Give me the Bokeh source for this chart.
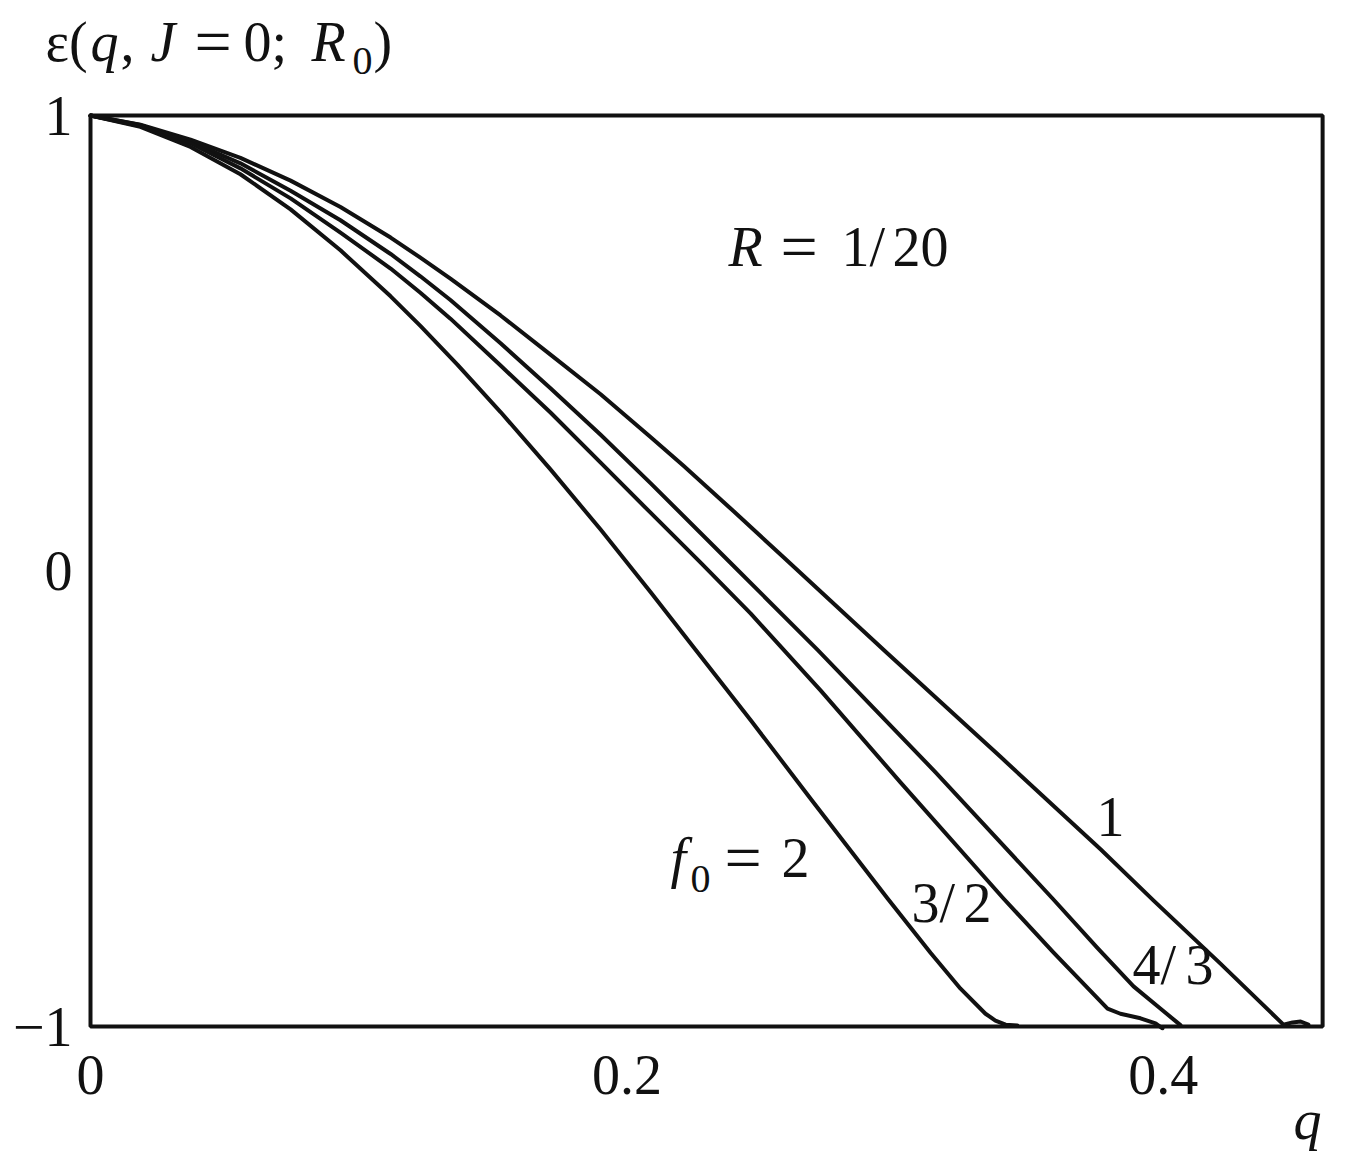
from bokeh.plotting import figure
from bokeh.models import Range1d, FixedTicker, Label, BoxAnnotation, LinearAxis
from bokeh.embed import file_html
from bokeh.resources import INLINE

# ---- data (q, epsilon) ----
q_f1 = [0, 0.0186, 0.0373, 0.0559, 0.0746, 0.0932, 0.1119, 0.1230, 0.1342, 0.1529,
        0.1715, 0.1902, 0.2088, 0.2211, 0.2398, 0.2584, 0.2972, 0.3393, 0.3766, 0.3963,
        0.4213, 0.4448, 0.4482, 0.4512, 0.4541]
eps_f1 = [1.0, 0.980, 0.947, 0.907, 0.857, 0.799, 0.732, 0.688, 0.642, 0.561,
          0.475, 0.388, 0.294, 0.231, 0.131, 0.030, -0.181, -0.408, -0.611, -0.723,
          -0.862, -0.996, -0.991, -0.989, -0.996]

q_f43 = [0, 0.0186, 0.0373, 0.0559, 0.0746, 0.0932, 0.1119, 0.1230, 0.1342, 0.1529,
         0.1715, 0.1902, 0.2088, 0.2398, 0.2711, 0.3151, 0.3587, 0.3755, 0.3889, 0.3990,
         0.4064]
eps_f43 = [1.0, 0.979, 0.943, 0.895, 0.835, 0.770, 0.696, 0.647, 0.595, 0.500,
           0.401, 0.299, 0.193, 0.011, -0.173, -0.442, -0.719, -0.828, -0.912, -0.961,
           -0.997]

q_f32 = [0, 0.0186, 0.0373, 0.0559, 0.0746, 0.0932, 0.1119, 0.1230, 0.1342, 0.1529,
         0.1715, 0.1902, 0.2088, 0.2274, 0.2461, 0.2722, 0.3020, 0.3404, 0.3591, 0.3792,
         0.3840, 0.3915, 0.3971, 0.3997]
eps_f32 = [1.0, 0.977, 0.939, 0.884, 0.818, 0.743, 0.664, 0.611, 0.554, 0.451,
           0.348, 0.238, 0.128, 0.019, -0.093, -0.262, -0.464, -0.719, -0.838, -0.961,
           -0.972, -0.982, -0.993, -1.004]

q_f2 = [0, 0.0186, 0.0373, 0.0559, 0.0746, 0.0932, 0.1119, 0.1230, 0.1368, 0.1529,
        0.1715, 0.1902, 0.2088, 0.2248, 0.2461, 0.2685, 0.2972, 0.3132, 0.3244, 0.3337,
        0.3374, 0.3412, 0.3456]
eps_f2 = [1.0, 0.975, 0.931, 0.871, 0.794, 0.704, 0.603, 0.538, 0.453, 0.349,
          0.223, 0.091, -0.046, -0.167, -0.327, -0.500, -0.719, -0.838, -0.917, -0.972,
          -0.987, -0.996, -0.998]

x_ticks = [0, 0.2, 0.4]
x_tick_labels = ["0", "0.2", "0.4"]
y_ticks = [-1, 0, 1]
y_tick_labels = ["\u22121", "0", "1"]
q_max = 0.4594           # right edge of the drawn box
q_axis_name_at = 0.4538  # where the italic "q" sits

FONT = "Liberation Serif"
INK = "#111111"

# page-pixel calibration of the reference (for annotation placement)
X0, XSCALE = 90.0, 2682.0
Y0, YSCALE = 570.5, 455.5
FR_L, FR_R, FR_T, FR_B = 30, 1326, 10, 1030   # frame edges in page px

p = figure(frame_width=FR_R - FR_L, frame_height=FR_B - FR_T,
           x_range=Range1d((FR_L - X0) / XSCALE, (FR_R - X0) / XSCALE),
           y_range=Range1d((Y0 - FR_B) / YSCALE, (Y0 - FR_T) / YSCALE),
           output_backend="svg", toolbar_location=None,
           min_border_left=FR_L, min_border_right=3,
           min_border_top=FR_T, min_border_bottom=0)
p.grid.visible = False
p.outline_line_color = None
p.background_fill_color = "white"
p.border_fill_color = "white"


def style_axis(ax, standoff):
    ax.axis_line_color = None
    ax.major_tick_line_color = None
    ax.minor_tick_line_color = None
    ax.major_tick_out = 0
    ax.major_tick_in = 0
    ax.minor_tick_out = 0
    ax.minor_tick_in = 0
    ax.major_label_text_font = FONT
    ax.major_label_text_font_size = "56px"
    ax.major_label_text_color = INK
    ax.major_label_standoff = standoff


style_axis(p.xaxis[0], 25)
style_axis(p.yaxis[0], 14 - (86 - FR_L))
p.xaxis[0].ticker = FixedTicker(ticks=x_ticks)
p.xaxis[0].major_label_overrides = {t: s for t, s in zip(x_ticks, x_tick_labels)}
p.yaxis[0].ticker = FixedTicker(ticks=y_ticks)
p.yaxis[0].major_label_overrides = {t: s for t, s in zip(y_ticks, y_tick_labels)}

# axis name "q" as a second bottom axis, pulled up next to the tick labels
qax = LinearAxis(ticker=FixedTicker(ticks=[q_axis_name_at]),
                 major_label_overrides={q_axis_name_at: "q"})
style_axis(qax, -8)
qax.major_label_text_font_style = "italic"
p.add_layout(qax, "below")

# the box
p.add_layout(BoxAnnotation(left=0, right=q_max, bottom=-1, top=1,
                           fill_color=None, fill_alpha=0,
                           line_color=INK, line_alpha=1.0, line_width=4))

for qs, es in ((q_f1, eps_f1), (q_f43, eps_f43), (q_f32, eps_f32), (q_f2, eps_f2)):
    p.line(qs, es, line_color=INK, line_width=4.0, line_join="round", line_cap="round")


def lab(xpx, ypx, text, size=56, italic=False):
    ypx = ypx - 0.375 * size   # Bokeh's label anchor sits below the baseline
    p.add_layout(Label(x=(xpx - X0) / XSCALE, y=(Y0 - ypx) / YSCALE, text=text,
                       text_font=FONT, text_font_size=f"{size}px",
                       text_font_style="italic" if italic else "normal",
                       text_color=INK, text_baseline="alphabetic", text_align="left"))


def eq(xpx, ypx):
    # the reference's "=" is a wide math-font sign
    lab(xpx, ypx + 4, "=", 66)


# y-axis title: ε(q, J = 0; R0)
lab(45, 62, "\u03b5(", 56)
lab(90, 62, "q", 56, True)
lab(120, 62, ",", 56)
lab(150, 62, "J", 56, True)
eq(194, 62)
lab(243, 62, "0;", 56)
lab(311, 62, "R", 56, True)
lab(352, 75, "0", 40)
lab(373, 62, ")", 56)

# annotation R = 1/20
lab(728, 267, "R", 56, True)
eq(780, 267)
lab(841, 267, "1/", 56)
lab(892, 267, "20", 56)

# curve labels
lab(670, 878, "f", 56, True)
lab(690, 893, "0", 40)
eq(724, 878)
lab(781, 878, "2", 56)
lab(911, 923, "3/", 56)
lab(963, 923, "2", 56)
lab(1132, 985, "4/", 56)
lab(1185, 985, "3", 56)
lab(1096, 837, "1", 56)

open("out.html", "w").write(file_html(p, INLINE))
